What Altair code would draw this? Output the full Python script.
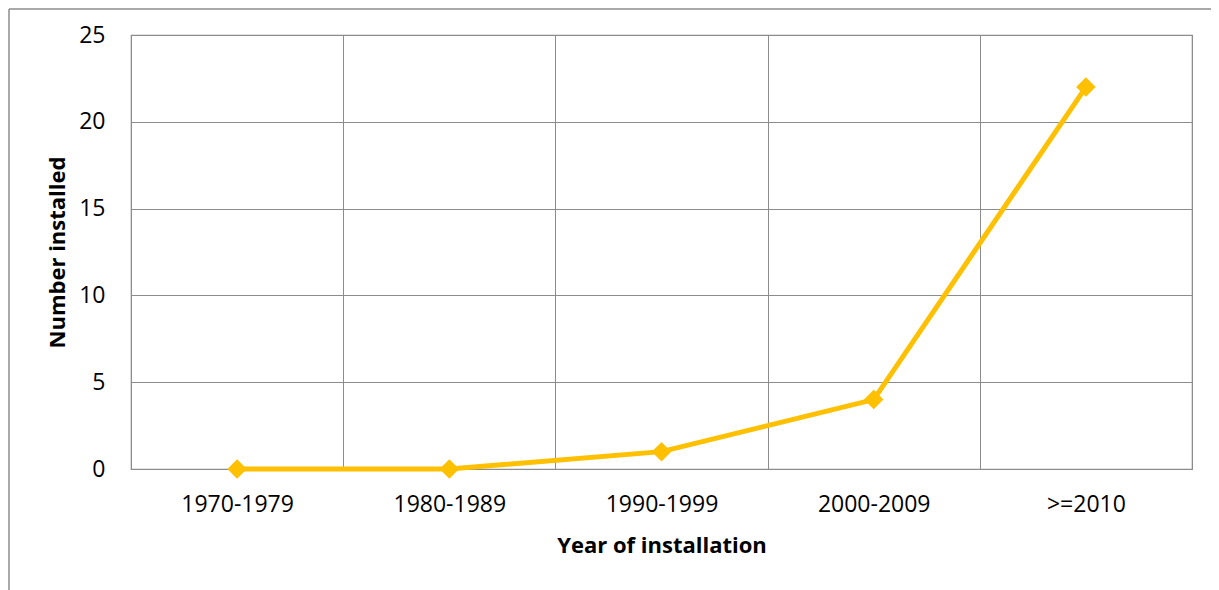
import altair as alt
import pandas as pd

categories = ["1970-1979", "1980-1989", "1990-1999", "2000-2009", ">=2010"]
values = [0, 0, 1, 4, 22]
y_ticks = [0, 5, 10, 15, 20, 25]

df = pd.DataFrame({"period": categories, "count": values})

FONT = "Open Sans"
GRID = "#8c8c8c"
GOLD = "#FFC000"

base = alt.Chart(df)

line = base.mark_line(
    color=GOLD,
    strokeWidth=5,
    point=alt.OverlayMarkDef(shape="diamond", size=380, filled=True, color=GOLD, opacity=1),
).encode(
    x=alt.X(
        "period:N",
        sort=categories,
        scale=alt.Scale(type="band", paddingInner=0, paddingOuter=0),
        axis=alt.Axis(
            title="Year of installation",
            labelAngle=0,
            ticks=False,
            domain=False,
            grid=True,
            tickBand="extent",
            labelPadding=24,
            titlePadding=19,
        ),
    ),
    y=alt.Y(
        "count:Q",
        scale=alt.Scale(domain=[0, 25], nice=False),
        axis=alt.Axis(
            title="Number installed",
            values=y_ticks,
            ticks=False,
            domain=False,
            grid=True,
            labelPadding=26,
            titlePadding=9,
        ),
    ),
)

border_df = pd.DataFrame({"a": [0]})
left_border = alt.Chart(border_df).mark_rule(color=GRID, strokeWidth=1.5).encode(
    x=alt.value(-122), y=alt.value(-26), y2=alt.value(600)
)
top_border = alt.Chart(border_df).mark_rule(color=GRID, strokeWidth=1.5).encode(
    x=alt.value(-122), x2=alt.value(1200), y=alt.value(-26)
)

chart = (
    alt.layer(line, left_border, top_border)
    .properties(
        width=1061,
        height=434,
        autosize=alt.AutoSizeParams(type="none"),
        padding={"left": 123, "top": 27, "right": 19, "bottom": 121},
    )
    .configure_view(stroke=GRID, strokeWidth=1.2)
    .configure_axis(
        gridColor=GRID,
        gridOpacity=1,
        gridWidth=1,
        labelFont=FONT,
        labelFontSize=23,
        labelColor="#000000",
        titleFont=FONT,
        titleFontSize=22,
        titleFontWeight="bold",
        titleColor="#000000",
    )
)

chart.save("out.html", embed_options={"renderer": "svg", "actions": False})
